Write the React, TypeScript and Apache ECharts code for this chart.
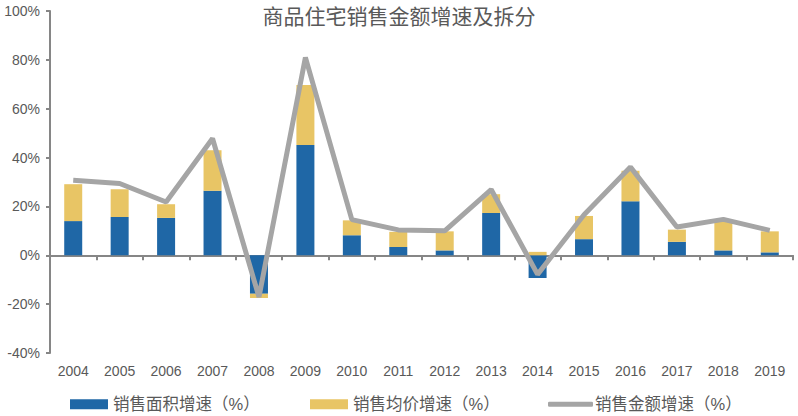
import React, { useEffect, useRef } from "react";
import * as echarts from "echarts";

const years = ["2004","2005","2006","2007","2008","2009","2010","2011","2012","2013","2014","2015","2016","2017","2018","2019"];
const areaGrowth = [14.0, 15.7, 15.3, 26.4, -15.7, 45.1, 8.2, 3.4, 2.0, 17.3, -9.3, 6.6, 22.1, 5.5, 2.0, 1.2];
const priceGrowth = [15.1, 11.3, 5.6, 16.6, -1.8, 24.6, 6.1, 6.2, 7.8, 7.7, 1.4, 9.5, 12.5, 5.0, 11.7, 8.6];
const amountGrowth = [30.7, 29.4, 21.8, 47.8, -17.1, 81.0, 14.6, 10.4, 10.0, 26.9, -7.8, 16.6, 36.1, 11.6, 14.7, 10.2];

const FONT = "'Liberation Sans', 'Noto Sans CJK SC', sans-serif";
const TXT = "#595959";
const AX = "#868686";

export default function App() {
  const ref = useRef<HTMLDivElement>(null);
  useEffect(() => {
    const chart = echarts.init(ref.current!, null, { renderer: "svg" });
    chart.setOption({
      animation: false,
      backgroundColor: "#ffffff",
      textStyle: { fontFamily: FONT },
      title: {
        text: "商品住宅销售金额增速及拆分",
        left: "center",
        top: 1,
        textStyle: { fontFamily: FONT, fontSize: 21, fontWeight: "normal", color: TXT },
      },
      grid: { left: 50, right: 5, top: 11, bottom: 63, containLabel: false },
      legend: [
        {
          data: ["销售面积增速（%）"], left: 70, top: 396, padding: 0,
          itemWidth: 38, itemHeight: 10, icon: "rect",
          textStyle: { fontFamily: FONT, fontSize: 16.5, color: TXT },
        },
        {
          data: ["销售均价增速（%）"], left: 310, top: 396, padding: 0,
          itemWidth: 38, itemHeight: 10, icon: "rect",
          textStyle: { fontFamily: FONT, fontSize: 16.5, color: TXT },
        },
        {
          data: ["销售金额增速（%）"], left: 548, top: 396, padding: 0,
          itemWidth: 45, itemHeight: 5, icon: "roundRect",
          textStyle: { fontFamily: FONT, fontSize: 16.5, color: TXT, padding: [0, 0, 0, -3] },
        },
      ],
      xAxis: [
        {
          type: "category",
          data: years,
          position: "bottom",
          axisLine: { show: false, onZero: false },
          axisTick: { show: false },
          axisLabel: { color: TXT, fontSize: 14, fontFamily: FONT, margin: 11 },
        },
        {
          type: "category",
          data: years,
          position: "bottom",
          axisLine: { show: true, onZero: true, lineStyle: { color: AX, width: 2 } },
          axisTick: { show: true, inside: false, length: 5, lineStyle: { color: AX, width: 2 } },
          axisLabel: { show: false },
        },
      ],
      yAxis: {
        type: "value",
        min: -40,
        max: 100,
        interval: 20,
        axisLine: { show: true, lineStyle: { color: AX, width: 2 } },
        axisTick: { show: true, length: 4, lineStyle: { color: AX, width: 2 } },
        splitLine: { show: false },
        axisLabel: { formatter: "{value}%", color: TXT, fontSize: 14, fontFamily: FONT, margin: 10 },
      },
      series: [
        {
          name: "销售面积增速（%）",
          type: "bar",
          stack: "total",
          barWidth: 18,
          data: areaGrowth,
          itemStyle: { color: "#1F67A6" },
        },
        {
          name: "销售均价增速（%）",
          type: "bar",
          stack: "total",
          barWidth: 18,
          data: priceGrowth,
          itemStyle: { color: "#E8C565" },
        },
        {
          name: "销售金额增速（%）",
          type: "line",
          data: amountGrowth,
          symbol: "none",
          lineStyle: { color: "#A5A5A5", width: 5 },
          itemStyle: { color: "#A5A5A5" },
          z: 5,
        },
      ],
    });
    return () => chart.dispose();
  }, []);
  return <div ref={ref} style={{ position: "fixed", left: 0, top: 0, width: 798, height: 416 }} />;
}
